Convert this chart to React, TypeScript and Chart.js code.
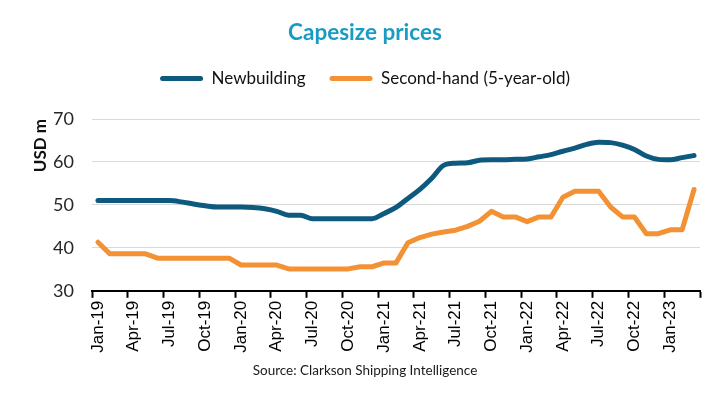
import React, { useEffect, useRef } from "react";
import { Chart, registerables } from "chart.js";

Chart.register(...registerables);

const months: string[] = [
  "Jan-19", "Feb-19", "Mar-19", "Apr-19", "May-19", "Jun-19", "Jul-19", "Aug-19", "Sep-19", "Oct-19", "Nov-19", "Dec-19",
  "Jan-20", "Feb-20", "Mar-20", "Apr-20", "May-20", "Jun-20", "Jul-20", "Aug-20", "Sep-20", "Oct-20", "Nov-20", "Dec-20",
  "Jan-21", "Feb-21", "Mar-21", "Apr-21", "May-21", "Jun-21", "Jul-21", "Aug-21", "Sep-21", "Oct-21", "Nov-21", "Dec-21",
  "Jan-22", "Feb-22", "Mar-22", "Apr-22", "May-22", "Jun-22", "Jul-22", "Aug-22", "Sep-22", "Oct-22", "Nov-22", "Dec-22",
  "Jan-23", "Feb-23", "Mar-23",
];

const newbuilding: number[] = [
  51, 51, 51, 51, 51, 51, 51, 50.7, 50.2, 49.8, 49.5, 49.5,
  49.5, 49.4, 49.1, 48.5, 47.6, 47.6, 46.8, 46.8, 46.8, 46.8, 46.8, 46.8,
  48.0, 49.4, 51.5, 53.6, 56.2, 59.2, 59.7, 59.8, 60.4, 60.5, 60.5, 60.6,
  60.7, 61.2, 61.7, 62.5, 63.2, 64.1, 64.6, 64.5, 63.9, 62.9, 61.4, 60.6,
  60.5, 61.0, 61.5,
];

const secondHand: number[] = [
  41.3, 38.6, 38.6, 38.6, 38.6, 37.6, 37.6, 37.6, 37.6, 37.6, 37.6, 37.6,
  36.0, 36.0, 36.0, 36.0, 35.1, 35.1, 35.1, 35.1, 35.1, 35.1, 35.6, 35.6,
  36.5, 36.5, 41.2, 42.4, 43.2, 43.7, 44.1, 45.0, 46.2, 48.5, 47.2, 47.2,
  46.1, 47.2, 47.2, 51.8, 53.2, 53.2, 53.2, 49.5, 47.2, 47.2, 43.3, 43.3,
  44.2, 44.2, 53.6,
];

const BLUE = "#0e5a7e";
const ORANGE = "#f39234";
const UI_FONT = "Lato, 'Open Sans', sans-serif";

const legendSpacer = {
  id: "legendSpacer",
  beforeInit(chart: any) {
    const legend = chart.legend;
    if (!legend) return;
    const origFit = legend.fit;
    legend.fit = function () {
      origFit.call(this);
      this.height += 22;
    };
  },
};

export default function App() {
  const canvasRef = useRef<HTMLCanvasElement | null>(null);

  useEffect(() => {
    const canvas = canvasRef.current;
    if (!canvas) return;
    const chart = new Chart(canvas, {
      type: "line",
      data: {
        labels: months,
        datasets: [
          {
            label: "Newbuilding",
            data: newbuilding,
            borderColor: BLUE,
            backgroundColor: BLUE,
            borderWidth: 5,
            pointRadius: 0,
            cubicInterpolationMode: "monotone",
            borderCapStyle: "round",
            borderJoinStyle: "round",
          },
          {
            label: "Second-hand (5-year-old)",
            data: secondHand,
            borderColor: ORANGE,
            backgroundColor: ORANGE,
            borderWidth: 5,
            pointRadius: 0,
            tension: 0,
            borderCapStyle: "round",
            borderJoinStyle: "round",
          },
        ],
      },
      options: {
        responsive: false,
        animation: false,
        devicePixelRatio: 1,
        layout: { padding: { left: 30, right: 23, top: 0, bottom: 20 } },
        plugins: {
          title: {
            display: true,
            text: "Capesize prices",
            color: "#1a9bc4",
            font: { family: UI_FONT, size: 22.5, weight: "bold" },
            padding: { top: 19, bottom: 0 },
          },
          subtitle: {
            display: true,
            position: "bottom",
            text: "Source: Clarkson Shipping Intelligence",
            color: "#1a1a1a",
            font: { family: UI_FONT, size: 13.5 },
            padding: { top: 5, bottom: 4 },
          },
          legend: {
            display: true,
            position: "top",
            labels: {
              color: "#111",
              font: { family: UI_FONT, size: 17 },
              boxWidth: 43,
              boxHeight: 5,
              padding: 24,
              useBorderRadius: true,
              borderRadius: 2.5,
              generateLabels: (c: any) =>
                Chart.defaults.plugins.legend.labels
                  .generateLabels(c)
                  .map((l: any) => ({ ...l, lineWidth: 0, borderRadius: 2.5 })),
            },
          },
          tooltip: { enabled: false },
        },
        scales: {
          x: {
            type: "category",
            offset: true,
            afterFit: (scale: any) => {
              scale.height = 67;
            },
            grid: {
              offset: true,
              drawOnChartArea: false,
              drawTicks: true,
              tickLength: 7,
              tickWidth: 2,
              tickColor: (ctx: any) =>
                ctx.index === undefined || ctx.index % 3 === 0 ? "#000" : "rgba(0,0,0,0)",
            },
            border: { display: true, color: "#000", width: 2 },
            ticks: {
              autoSkip: false,
              maxRotation: 90,
              minRotation: 90,
              padding: 3,
              color: "#000",
              font: { family: "'Liberation Sans', Arial, sans-serif", size: 17 },
              callback: (_v: any, i: number) => (i % 3 === 0 ? months[i] : ""),
            },
          },
          y: {
            min: 30,
            max: 70,
            afterFit: (scale: any) => {
              scale.width = 62;
            },
            ticks: {
              stepSize: 10,
              padding: 18,
              color: "#262626",
              font: { family: UI_FONT, size: 18 },
            },
            grid: {
              color: "#d9d9d9",
              lineWidth: 1,
              drawTicks: false,
            },
            border: { display: false },
            title: {
              display: true,
              text: "USD m",
              align: "end",
              color: "#111",
              font: { family: UI_FONT, size: 17, weight: "bold" },
              padding: { top: 0, bottom: 0 },
            },
          },
        },
      },
      plugins: [legendSpacer],
    });
    return () => chart.destroy();
  }, []);

  return (
    <div style={{ position: "absolute", left: 0, top: 0, width: 723, height: 403, background: "#fff" }}>
      <canvas ref={canvasRef} width={723} height={403} />
    </div>
  );
}
